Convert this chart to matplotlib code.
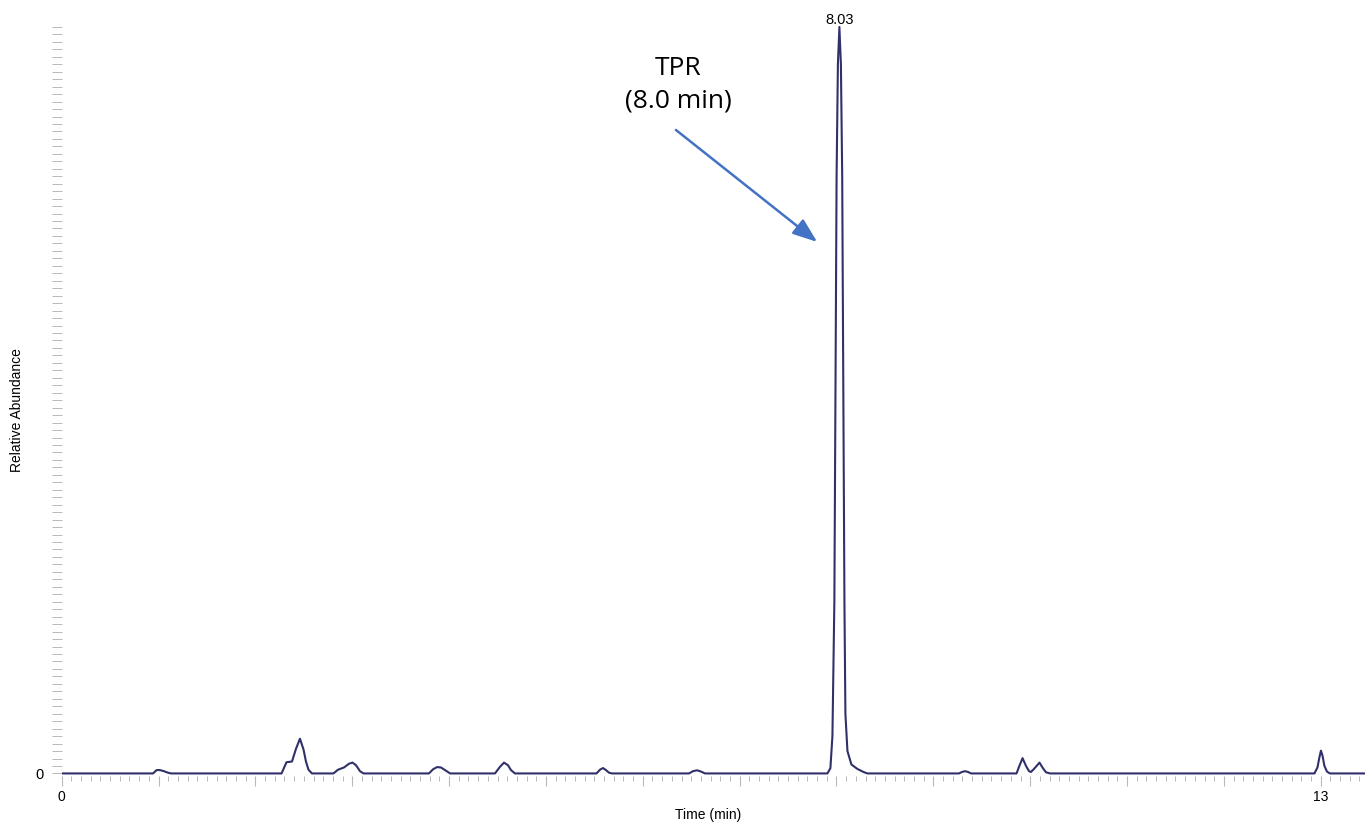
import numpy as np
import matplotlib.pyplot as plt
from matplotlib.ticker import MultipleLocator, FuncFormatter

# TIC trace: retention time (min) and relative abundance (%)
trace_time = [
    0.0,
    0.943, 0.980, 1.015, 1.056, 1.097, 1.129,
    2.270, 2.321, 2.378, 2.419, 2.460, 2.497, 2.522, 2.548, 2.584,
    2.806, 2.853, 2.915, 2.966, 3.003, 3.039, 3.080, 3.116,
    3.792, 3.834, 3.875, 3.916, 3.958, 4.010,
    4.474, 4.526, 4.567, 4.608, 4.639, 4.680,
    5.522, 5.558, 5.589, 5.620, 5.651, 5.682,
    6.477, 6.518, 6.560, 6.601, 6.642,
    7.906, 7.937, 7.958, 7.978, 7.989, 8.001, 8.0145, 8.030,
    8.0455, 8.059, 8.071, 8.082, 8.092, 8.113, 8.154, 8.216, 8.278, 8.319,
    9.265, 9.296, 9.327, 9.358, 9.389,
    9.859, 9.885, 9.921, 9.957, 9.988, 10.008, 10.039, 10.096, 10.132, 10.163, 10.205,
    12.935, 12.966, 12.987, 13.002, 13.018, 13.038, 13.064, 13.095,
    13.457,
]
trace_abundance = [
    0.0,
    0.0, 0.45, 0.45, 0.3, 0.1, 0.0,
    0.0, 1.5, 1.6, 3.3, 4.65, 3.2, 1.6, 0.5, 0.0,
    0.0, 0.5, 0.8, 1.3, 1.45, 1.1, 0.3, 0.0,
    0.0, 0.55, 0.85, 0.8, 0.45, 0.0,
    0.0, 0.9, 1.45, 1.1, 0.45, 0.0,
    0.0, 0.5, 0.72, 0.45, 0.1, 0.0,
    0.0, 0.3, 0.42, 0.25, 0.0,
    0.0, 0.7, 5.0, 23.0, 50.0, 80.0, 95.0, 100.0,
    95.0, 80.0, 50.0, 23.0, 8.0, 3.0, 1.2, 0.6, 0.2, 0.0,
    0.0, 0.2, 0.3, 0.2, 0.0,
    0.0, 0.9, 2.05, 1.0, 0.3, 0.2, 0.6, 1.45, 0.7, 0.15, 0.0,
    0.0, 0.8, 2.2, 3.05, 2.4, 1.0, 0.25, 0.0,
    0.0,
]

x_tick_labels = {0: '0', 13: '13'}
y_tick_labels = {0: '0'}
compound = 'TPR'
compound_rt = 8.0

trace_color = '#30306a'
tick_color = '#b8b8b8'
arrow_color = '#4472c4'

fig = plt.figure(figsize=(13.65, 8.23), dpi=100)
ax = fig.add_axes([61.7 / 1365, 0.0575, 1 - 61.7 / 1365, 0.9152])

ax.plot(trace_time, trace_abundance, color=trace_color, lw=1.5,
        solid_joinstyle='round', solid_capstyle='round')

ax.set_xlim(0, 13.457)
ax.set_ylim(-0.3, 100.6)
for s in ax.spines.values():
    s.set_visible(False)

# x axis: 1 min major ticks, 0.1 min minor ticks, only ends labelled
ax.xaxis.set_major_locator(MultipleLocator(1))
ax.xaxis.set_minor_locator(MultipleLocator(0.1))
ax.xaxis.set_major_formatter(FuncFormatter(lambda v, p: x_tick_labels.get(int(round(v)), '')))
ax.tick_params(axis='x', which='major', length=7, width=0.8, color=tick_color,
               labelsize=10, pad=3)
ax.tick_params(axis='x', which='minor', length=3.5, width=0.7, color=tick_color)

# y axis: a tick every 1 %, only 0 labelled
ax.yaxis.set_major_locator(MultipleLocator(1))
ax.yaxis.set_major_formatter(FuncFormatter(lambda v, p: y_tick_labels.get(int(round(v)), '') if abs(v - round(v)) < 1e-6 else ''))
ax.tick_params(axis='y', which='major', length=7, width=0.7, color=tick_color,
               labelsize=10.5, pad=6)

for lab in ax.get_xticklabels() + ax.get_yticklabels():
    lab.set_fontfamily('Liberation Sans')

ax.set_xlabel('Time (min)', fontsize=10, family='Liberation Sans')
ax.xaxis.set_label_coords(0.496, -0.043)
fig.text(17 / 1365, 1 - 410 / 823, 'Relative Abundance', rotation=90,
         ha='center', va='center', fontsize=10, family='Liberation Sans')

# label the base peak with its retention time
i_max = int(np.argmax(trace_abundance))
apex_t = trace_time[i_max]
apex_y = trace_abundance[i_max]
ax.annotate(f'{apex_t:.2f}', xy=(apex_t, apex_y), xytext=(0, 2),
            textcoords='offset points', ha='center', va='baseline',
            fontsize=10.5, family='Liberation Sans')

# compound callout with arrow
ax.text(apex_t - 1.662, 92.3, f'{compound}\n({compound_rt:.1f} min)',
        ha='center', va='center', fontsize=19, family='Open Sans',
        linespacing=1.4)
ax.annotate('', xy=(apex_t - 0.229, 71.2), xytext=(apex_t - 1.688, 86.2),
            arrowprops=dict(arrowstyle='-|>,head_length=0.75,head_width=0.28',
                            color=arrow_color, lw=1.8, mutation_scale=20,
                            shrinkA=0, shrinkB=0))

fig.savefig('out.png', dpi=100)
